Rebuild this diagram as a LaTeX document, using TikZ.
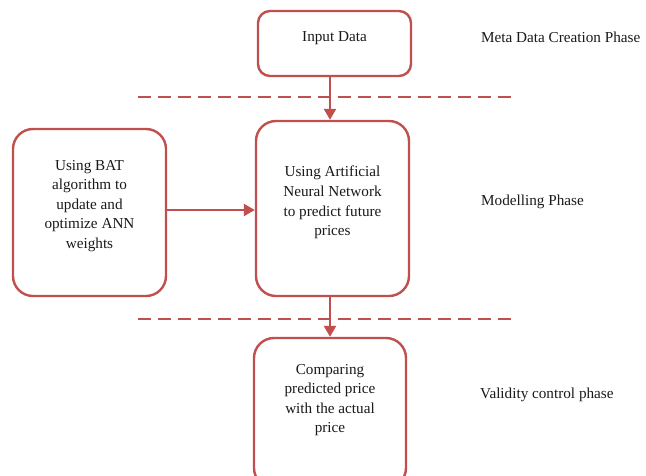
\documentclass[tikz,border=0pt]{standalone}
\usepackage{fontspec}
\setmainfont{Liberation Serif}
\usetikzlibrary{arrows.meta}
\definecolor{boxred}{HTML}{C0504D}
\begin{document}
\begin{tikzpicture}[x=1pt,y=-1pt,
  box/.style={draw=boxred,line width=2.4pt,rounded corners=20pt,align=center,
    font=\fontsize{15.2}{19.6}\selectfont,text=black!90},
  txt/.style={align=center,font=\fontsize{15.2}{19.6}\selectfont,text=black!90},
  phase/.style={anchor=west,inner sep=0pt,font=\fontsize{15.2}{19.6}\selectfont,text=black!90},
  conn/.style={draw=boxred,line width=2.4pt,-{Triangle[length=11pt,width=12pt]}},
  sep/.style={draw=boxred,line width=2.4pt,dash pattern=on 13pt off 7pt}]
\useasboundingbox (0,0) rectangle (646,475);
\clip (0,0) rectangle (646,475);
\node[box,rounded corners=12pt,minimum width=153pt,minimum height=65pt] (inp) at (334.5,43.5) {};
\node[txt] (inptxt) at (334.5,38) {Input Data};
\node[box,minimum width=153pt,minimum height=167pt] (bat) at (89.5,212.5) {};
\node[txt] (battxt) at (89.5,206) {Using BAT\\algorithm to\\update and\\optimize ANN\\weights};
\node[box,minimum width=153pt,minimum height=175pt] (ann) at (332.5,208.5) {};
\node[txt] (anntxt) at (332.5,202.5) {Using Artificial\\Neural Network\\to predict future\\prices};
\node[box,minimum width=152pt,minimum height=150pt] (cmp) at (330,413) {};
\node[txt] (cmptxt) at (330,400) {Comparing\\predicted price\\with the actual\\price};
\node[phase] (p1) at (481,37) {Meta Data Creation Phase};
\node[phase] (p2) at (481,202) {Modelling Phase};
\node[phase] (p3) at (480,395) {Validity control phase};
\coordinate (d1a) at (138,97); \coordinate (d1b) at (511,97);
\coordinate (d2a) at (138,319); \coordinate (d2b) at (511,319);
\draw[sep] (d1a) -- (d1b);
\draw[sep] (d2a) -- (d2b);
\draw[conn] (inp.south -| cmp.north) -- (ann.north -| cmp.north);
\draw[conn] (ann.south -| cmp.north) -- (cmp.north);
\draw[conn] ([yshift=2.5pt]bat.east) -- ([yshift=-1.5pt]ann.west);
\end{tikzpicture}
\end{document}
